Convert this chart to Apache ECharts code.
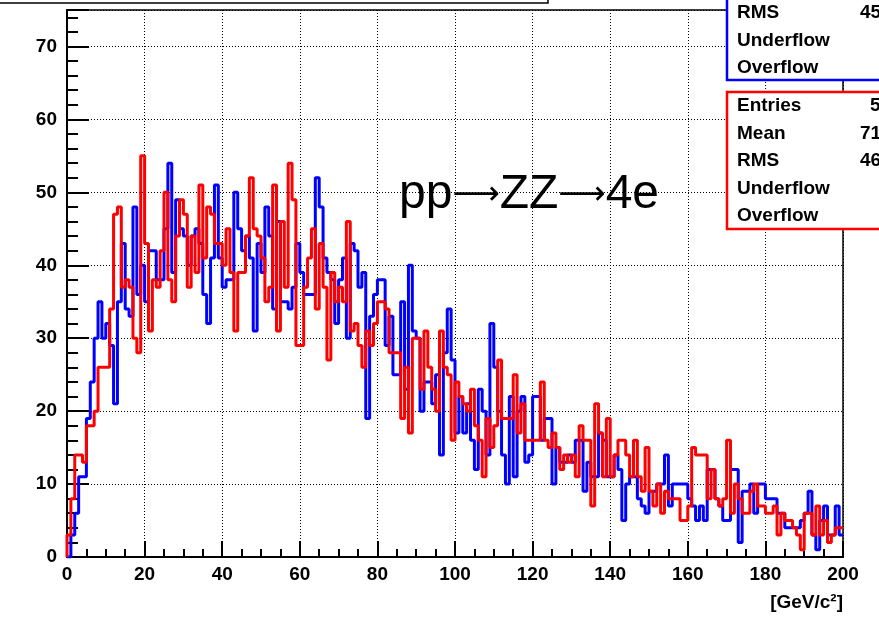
<!DOCTYPE html>
<html>
<head>
<meta charset="utf-8">
<script src="https://cdn.jsdelivr.net/npm/echarts@6/dist/echarts.min.js"></script>
<style>
html,body{margin:0;padding:0;background:#fff;}
#chart{width:879px;height:617px;}
</style>
</head>
<body>
<div id="chart"></div>
<script>
// Histogram: 200 bins of width 1 GeV/c^2 from 0 to 200
const binStart = 0;
const binWidth = 1;

const blueCounts = [
  0, 3, 6, 11, 11, 19, 24, 30, 35, 30,
  32, 29, 21, 35, 43, 34, 33, 48, 36, 40,
  35, 42, 42, 38, 38, 45, 54, 39, 49, 45,
  44, 40, 44, 45, 43, 36, 32, 41, 51, 41,
  37, 38, 38, 50, 45, 42, 44, 41, 31, 43,
  39, 48, 44, 34, 46, 35, 35, 34, 37, 43,
  39, 36, 36, 36, 52, 48, 41, 39, 38, 32,
  38, 41, 30, 43, 42, 37, 39, 19, 33, 36,
  38, 38, 29, 33, 25, 25, 35, 23, 40, 31,
  30, 20, 24, 24, 21, 25, 14, 28, 34, 27,
  17, 22, 17, 21, 16, 12, 23, 20, 14, 32,
  26, 20, 14, 10, 22, 11, 20, 22, 13, 14,
  22, 22, 16, 19, 19, 10, 15, 13, 13, 14,
  13, 16, 16, 9, 13, 11, 11, 17, 16, 11,
  11, 14, 12, 5, 10, 11, 11, 8, 7, 6,
  9, 9, 10, 10, 14, 7, 10, 10, 10, 10,
  8, 7, 5, 7, 5, 12, 12, 8, 7, 5,
  5, 12, 12, 2, 9, 9, 10, 6, 10, 10,
  8, 8, 8, 6, 6, 4, 4, 4, 4, 5,
  6, 9, 3, 1, 5, 7, 3, 3, 7, 3
];

const redCounts = [
  3, 8, 14, 14, 13, 18, 18, 20, 26, 26,
  26, 34, 47, 48, 37, 38, 37, 30, 28, 55,
  43, 31, 38, 37, 42, 50, 38, 35, 44, 49,
  47, 37, 44, 39, 51, 41, 48, 47, 43, 43,
  40, 45, 39, 31, 39, 39, 44, 52, 45, 44,
  41, 35, 37, 51, 31, 46, 37, 54, 49, 29,
  29, 37, 41, 45, 34, 43, 37, 27, 39, 35,
  37, 35, 46, 31, 32, 29, 26, 31, 29, 32,
  35, 35, 34, 28, 28, 28, 19, 26, 17, 30,
  30, 23, 31, 26, 23, 20, 31, 26, 25, 16,
  24, 22, 21, 20, 23, 18, 16, 11, 19, 15,
  18, 27, 19, 19, 19, 25, 17, 21, 16, 16,
  16, 16, 24, 16, 15, 17, 15, 12, 14, 13,
  14, 11, 18, 16, 16, 7, 21, 17, 11, 19,
  11, 14, 16, 16, 14, 11, 16, 11, 9, 15,
  9, 7, 10, 6, 9, 8, 8, 8, 5, 5,
  7, 15, 14, 14, 14, 8, 12, 8, 7, 8,
  16, 6, 10, 8, 6, 6, 9, 10, 7, 7,
  6, 6, 7, 3, 6, 5, 5, 4, 3, 1,
  6, 6, 3, 7, 3, 5, 2, 3, 4, 4
];

const xTickLabels = ['0','20','40','60','80','100','120','140','160','180','200'];
const yTickLabels = ['0','10','20','30','40','50','60','70'];

const processParts = ['pp', '\u27f6', 'ZZ', '\u27f6', '4e'];
const axisTitle = '[GeV/c\u00b2]';
const blueStatNames = ['RMS', 'Underflow', 'Overflow'];
const blueStatValues = ['45', '', ''];
const redStatNames = ['Entries', 'Mean', 'RMS', 'Underflow', 'Overflow'];
const redStatValues = ['5', '71', '46', '', ''];

function stepData(counts) {
  const pts = [[binStart, 0]];
  counts.forEach((c, i) => pts.push([binStart + i * binWidth, c]));
  pts.push([binStart + counts.length * binWidth, counts[counts.length - 1]]);
  return pts;
}

const FONT = '"Liberation Sans", Arial, Helvetica, sans-serif';
const chart = echarts.init(document.getElementById('chart'), null, {renderer: 'canvas'});

const gLeft = 67, gTop = 10, gRight = 843, gBottom = 557;

const graphics = [];
// remnant of title box at top
graphics.push({type:'rect', shape:{x:-10, y:-20, width:558, height:23}, style:{fill:'#fff', stroke:'#000', lineWidth:1.5}, z:100});
// process label (rich text so the arrows can use a font with long thin arrows)
const richText = processParts.map((p, i) => (i % 2 === 1 ? '{a|' + p + '}' : '{t|' + p + '}')).join('');
graphics.push({type:'text', style:{x:399, y:195, text:richText, fill:'#000', textVerticalAlign:'middle',
  rich:{
    t:{font:'48px ' + FONT, fill:'#000'},
    a:{font:'33px "DejaVu Sans", sans-serif', fill:'#000'}
  }}, z:100});
// axis title
graphics.push({type:'text', style:{x:843, y:603, text:axisTitle, font:'bold 19px ' + FONT, fill:'#000', textAlign:'right', textVerticalAlign:'middle'}, z:100});
// blue stats box
graphics.push({type:'rect', shape:{x:727, y:-20, width:170, height:100}, style:{fill:'#fff', stroke:'#0000ff', lineWidth:2.5}, z:100});
blueStatNames.forEach((n, i) => {
  const y = 13 + i * 27.5;
  graphics.push({type:'text', style:{x:737, y:y, text:n, font:'bold 19px ' + FONT, fill:'#000', textVerticalAlign:'middle'}, z:101});
  if (blueStatValues[i]) graphics.push({type:'text', style:{x:860, y:y, text:blueStatValues[i], font:'bold 19px ' + FONT, fill:'#000', textVerticalAlign:'middle'}, z:101});
});
// red stats box
graphics.push({type:'rect', shape:{x:727, y:92, width:170, height:137}, style:{fill:'#fff', stroke:'#ff0000', lineWidth:2.5}, z:100});
redStatNames.forEach((n, i) => {
  const y = 106 + i * 27.5;
  graphics.push({type:'text', style:{x:737, y:y, text:n, font:'bold 19px ' + FONT, fill:'#000', textVerticalAlign:'middle'}, z:101});
  if (redStatValues[i]) graphics.push({type:'text', style:{x:(i === 0 ? 870 : 860), y:y, text:redStatValues[i], font:'bold 19px ' + FONT, fill:'#000', textVerticalAlign:'middle'}, z:101});
});

const dotted = {color:'#000', width:1, type:[1, 2]};

const option = {
  animation: false,
  backgroundColor: '#fff',
  grid: {left:gLeft, top:gTop, right:879 - gRight, bottom:617 - gBottom, show:true, borderColor:'#000', borderWidth:1.5, backgroundColor:'transparent', containLabel:false},
  xAxis: [
    {
      type:'value', min:0, max:200, interval:20, position:'bottom',
      axisLine:{show:true, onZero:false, lineStyle:{color:'#000', width:2}},
      axisTick:{show:true, inside:true, length:16, lineStyle:{color:'#000', width:2}},
      axisLabel:{show:true, color:'#000', fontWeight:'bold', fontSize:19, fontFamily:FONT, margin:8,
        formatter: v => xTickLabels.includes(String(v)) ? String(v) : ''},
      splitLine:{show:true, lineStyle:dotted}
    },
    {
      type:'value', min:0, max:200, interval:5, position:'bottom',
      axisLine:{show:false}, axisLabel:{show:false}, splitLine:{show:false},
      axisTick:{show:true, inside:true, length:8, lineStyle:{color:'#000', width:2}}
    }
  ],
  yAxis: [
    {
      type:'value', min:0, max:75, interval:10, position:'left',
      axisLine:{show:true, onZero:false, lineStyle:{color:'#000', width:2}},
      axisTick:{show:true, inside:true, length:22, lineStyle:{color:'#000', width:2}},
      axisLabel:{show:true, color:'#000', fontWeight:'bold', fontSize:19, fontFamily:FONT, margin:10,
        formatter: v => yTickLabels.includes(String(v)) ? String(v) : ''},
      splitLine:{show:true, lineStyle:dotted}
    },
    {
      type:'value', min:0, max:75, interval:2, position:'left',
      axisLine:{show:false}, axisLabel:{show:false}, splitLine:{show:false},
      axisTick:{show:true, inside:true, length:11, lineStyle:{color:'#000', width:2}}
    }
  ],
  series: [
    {type:'line', name:'blue', xAxisIndex:0, yAxisIndex:0, step:'end', symbol:'none', data:stepData(blueCounts),
      lineStyle:{color:'#0000ff', width:3}, z:3},
    {type:'line', name:'red', xAxisIndex:0, yAxisIndex:0, step:'end', symbol:'none', data:stepData(redCounts),
      lineStyle:{color:'#ff0000', width:3}, z:4}
  ],
  graphic: graphics
};
chart.setOption(option);
</script>
</body>
</html>
